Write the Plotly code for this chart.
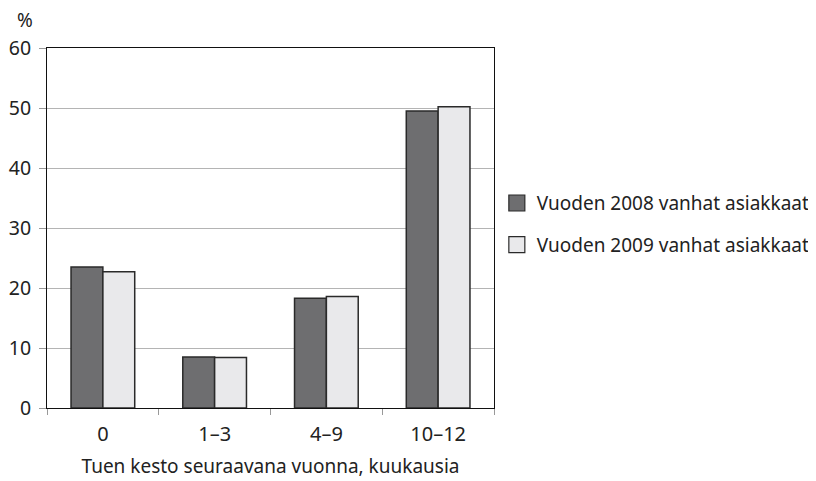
import plotly.graph_objects as go

categories = ["0", "1\u20133", "4\u20139", "10\u201312"]
series_2008 = [23.5, 8.5, 18.3, 49.5]
series_2009 = [22.7, 8.4, 18.6, 50.2]
names = ["Vuoden 2008 vanhat asiakkaat", "Vuoden 2009 vanhat asiakkaat"]
fills = ["#6e6e70", "#e9e9eb"]
y_ticks = [0, 10, 20, 30, 40, 50, 60]

FONT = "Noto Sans"
EDGE = "#2a2a2a"
fig = go.Figure()
for vals, name, col in zip([series_2008, series_2009], names, fills):
    fig.add_trace(go.Bar(x=categories, y=vals, name=name, showlegend=False,
                         marker=dict(color=col, line=dict(color=EDGE, width=1.5))))
for i, (name, col) in enumerate(zip(names, fills)):
    fig.add_trace(go.Scatter(x=[None], y=[None], mode="markers", name=name,
                             legendgroup="g%d" % i,
                             marker=dict(symbol="square", size=16, color=col,
                                         line=dict(color=EDGE, width=1.2))))

fig.update_layout(
    width=808, height=473,
    margin=dict(l=39, r=322, t=40, b=73, autoexpand=False),
    paper_bgcolor="white", plot_bgcolor="white",
    barmode="group", bargap=0.43, bargroupgap=0,
    font=dict(family=FONT, size=17, color="#222"),
    showlegend=True,
    legend=dict(xref="container", yref="container", x=0.605, y=0.543,
                xanchor="left", yanchor="middle", itemsizing="trace",
                font=dict(family=FONT, size=19, color="#222"),
                tracegroupgap=14, bgcolor="rgba(0,0,0,0)"),
    xaxis=dict(type="category", tickson="boundaries", ticks="outside", ticklen=6,
               tickcolor="#999", showgrid=False, showline=True, linecolor="#111",
               linewidth=1, mirror=True, ticklabelstandoff=8,
               tickfont=dict(family=FONT, size=20, color="#222"),
               title=dict(text="Tuen kesto seuraavana vuonna, kuukausia", standoff=13,
                          font=dict(family=FONT, size=19, color="#222"))),
    yaxis=dict(range=[0, 60], tickvals=y_ticks, ticks="outside", ticklen=7,
               tickcolor="#999", showgrid=True, gridcolor="#b4b4b4", gridwidth=1,
               showline=True, linecolor="#111", linewidth=1, mirror=True,
               zeroline=False, ticklabelstandoff=4,
               tickfont=dict(family=FONT, size=19.5, color="#222")),
    annotations=[dict(text="%", xref="paper", yref="paper", x=-0.049, y=1.078,
                      xanchor="center", yanchor="middle", showarrow=False,
                      borderpad=0,
                      font=dict(family=FONT, size=19, color="#222"))],
)

fig.write_html("out.html")
